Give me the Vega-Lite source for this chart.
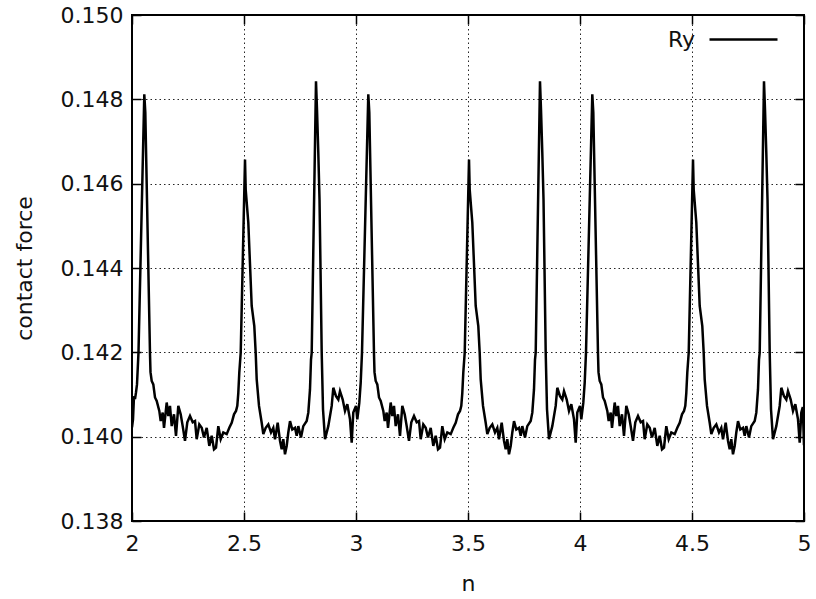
{
  "$schema": "https://vega.github.io/schema/vega-lite/v6.json",
  "width": 672,
  "height": 506,
  "autosize": {"type": "none"},
  "padding": {"left": 132, "top": 15, "right": 12, "bottom": 78},
  "background": "white",
  "config": {
    "font": "DejaVu Sans",
    "view": {"stroke": "black", "strokeWidth": 2},
    "axis": {
      "domain": false,
      "grid": true,
      "gridColor": "#000000",
      "gridDash": [1.5, 3],
      "gridWidth": 1,
      "gridOpacity": 0.85,
      "tickColor": "black",
      "tickWidth": 1.5,
      "tickSize": -9,
      "labelFontSize": 22,
      "labelFontWeight": "normal",
      "labelColor": "#111111",
      "labelFont": "DejaVu Sans",
      "titleFont": "DejaVu Sans",
      "titleFontSize": 22,
      "titleFontWeight": "normal",
      "titleColor": "#111111"
    },
    "legend": {
      "orient": "none",
      "legendX": 576,
      "legendY": -11,
      "symbolType": "stroke",
      "symbolSize": 4624,
      "symbolStrokeWidth": 2.5,
      "symbolStrokeColor": "black",
      "labelAlign": "right",
      "labelOffset": -84,
      "labelFontSize": 22,
      "labelFontWeight": "normal",
      "labelFont": "DejaVu Sans",
      "labelColor": "#111111",
      "padding": 0
    }
  },
  "data": {
    "values": [
      {"n": 2.0000, "f": 0.14022}, {"n": 2.0045, "f": 0.14041}, {"n": 2.0089, "f": 0.14096}, {"n": 2.0134, "f": 0.14089},
      {"n": 2.0179, "f": 0.14105}, {"n": 2.0223, "f": 0.14124}, {"n": 2.0290, "f": 0.14200}, {"n": 2.0549, "f": 0.14812},
      {"n": 2.0594, "f": 0.14769}, {"n": 2.0804, "f": 0.14195}, {"n": 2.0826, "f": 0.14153}, {"n": 2.0879, "f": 0.14132},
      {"n": 2.0951, "f": 0.14124}, {"n": 2.1027, "f": 0.14093}, {"n": 2.1103, "f": 0.14085}, {"n": 2.1219, "f": 0.14061},
      {"n": 2.1281, "f": 0.14037}, {"n": 2.1371, "f": 0.14057}, {"n": 2.1429, "f": 0.14021}, {"n": 2.1549, "f": 0.14081},
      {"n": 2.1621, "f": 0.14049}, {"n": 2.1696, "f": 0.14073}, {"n": 2.1772, "f": 0.14025}, {"n": 2.1875, "f": 0.14053},
      {"n": 2.1964, "f": 0.14002}, {"n": 2.2067, "f": 0.14073}, {"n": 2.2174, "f": 0.14053}, {"n": 2.2263, "f": 0.14025},
      {"n": 2.2366, "f": 0.13990}, {"n": 2.2469, "f": 0.14034}, {"n": 2.2589, "f": 0.14049}, {"n": 2.2710, "f": 0.14034},
      {"n": 2.2813, "f": 0.14037}, {"n": 2.2888, "f": 0.13994}, {"n": 2.3004, "f": 0.14029}, {"n": 2.3112, "f": 0.14021},
      {"n": 2.3214, "f": 0.13998}, {"n": 2.3335, "f": 0.14021}, {"n": 2.3451, "f": 0.13978}, {"n": 2.3558, "f": 0.14002},
      {"n": 2.3661, "f": 0.13970}, {"n": 2.3750, "f": 0.13974}, {"n": 2.3853, "f": 0.14025}, {"n": 2.3960, "f": 0.13994},
      {"n": 2.4076, "f": 0.14010}, {"n": 2.4228, "f": 0.14006}, {"n": 2.4344, "f": 0.14021}, {"n": 2.4451, "f": 0.14033},
      {"n": 2.4554, "f": 0.14053}, {"n": 2.4643, "f": 0.14061}, {"n": 2.4701, "f": 0.14073}, {"n": 2.4746, "f": 0.14104},
      {"n": 2.4790, "f": 0.14152}, {"n": 2.4853, "f": 0.14199}, {"n": 2.5045, "f": 0.14657}, {"n": 2.5076, "f": 0.14586},
      {"n": 2.5192, "f": 0.14508}, {"n": 2.5344, "f": 0.14310}, {"n": 2.5460, "f": 0.14262}, {"n": 2.5522, "f": 0.14199},
      {"n": 2.5567, "f": 0.14136}, {"n": 2.5670, "f": 0.14073}, {"n": 2.5790, "f": 0.14033}, {"n": 2.5862, "f": 0.14006},
      {"n": 2.5969, "f": 0.14021}, {"n": 2.6085, "f": 0.14029}, {"n": 2.6205, "f": 0.14010}, {"n": 2.6308, "f": 0.14021},
      {"n": 2.6384, "f": 0.13994}, {"n": 2.6504, "f": 0.14033}, {"n": 2.6607, "f": 0.13990}, {"n": 2.6683, "f": 0.13970},
      {"n": 2.6754, "f": 0.13994}, {"n": 2.6830, "f": 0.13958}, {"n": 2.6906, "f": 0.13978}, {"n": 2.6978, "f": 0.14010},
      {"n": 2.7054, "f": 0.14037}, {"n": 2.7156, "f": 0.14017}, {"n": 2.7277, "f": 0.14021}, {"n": 2.7353, "f": 0.14002},
      {"n": 2.7424, "f": 0.14025}, {"n": 2.7545, "f": 0.13998}, {"n": 2.7647, "f": 0.14025}, {"n": 2.7799, "f": 0.14037},
      {"n": 2.7871, "f": 0.14057}, {"n": 2.7946, "f": 0.14112}, {"n": 2.7991, "f": 0.14183}, {"n": 2.8022, "f": 0.14199},
      {"n": 2.8214, "f": 0.14843}, {"n": 2.8259, "f": 0.14776}, {"n": 2.8317, "f": 0.14673}, {"n": 2.8371, "f": 0.14563},
      {"n": 2.8469, "f": 0.14199}, {"n": 2.8527, "f": 0.14065}, {"n": 2.8616, "f": 0.13994}, {"n": 2.8763, "f": 0.14025},
      {"n": 2.8915, "f": 0.14073}, {"n": 2.8987, "f": 0.14116}, {"n": 2.9107, "f": 0.14096}, {"n": 2.9210, "f": 0.14088},
      {"n": 2.9286, "f": 0.14108}, {"n": 2.9406, "f": 0.14088}, {"n": 2.9509, "f": 0.14061}, {"n": 2.9612, "f": 0.14077},
      {"n": 2.9732, "f": 0.14041}, {"n": 2.9808, "f": 0.13986}, {"n": 2.9879, "f": 0.14057},
      {"n": 3.0000, "f": 0.14073}, {"n": 3.0058, "f": 0.14041}, {"n": 3.0147, "f": 0.14080}, {"n": 3.0210, "f": 0.14128},
      {"n": 3.0268, "f": 0.14200}, {"n": 3.0549, "f": 0.14812},
      {"n": 3.0594, "f": 0.14769}, {"n": 3.0804, "f": 0.14195}, {"n": 3.0826, "f": 0.14153}, {"n": 3.0879, "f": 0.14132},
      {"n": 3.0951, "f": 0.14124}, {"n": 3.1027, "f": 0.14093}, {"n": 3.1103, "f": 0.14085}, {"n": 3.1219, "f": 0.14061},
      {"n": 3.1281, "f": 0.14037}, {"n": 3.1371, "f": 0.14057}, {"n": 3.1429, "f": 0.14021}, {"n": 3.1549, "f": 0.14081},
      {"n": 3.1621, "f": 0.14049}, {"n": 3.1696, "f": 0.14073}, {"n": 3.1772, "f": 0.14025}, {"n": 3.1875, "f": 0.14053},
      {"n": 3.1964, "f": 0.14002}, {"n": 3.2067, "f": 0.14073}, {"n": 3.2174, "f": 0.14053}, {"n": 3.2263, "f": 0.14025},
      {"n": 3.2366, "f": 0.13990}, {"n": 3.2469, "f": 0.14034}, {"n": 3.2589, "f": 0.14049}, {"n": 3.2710, "f": 0.14034},
      {"n": 3.2813, "f": 0.14037}, {"n": 3.2888, "f": 0.13994}, {"n": 3.3004, "f": 0.14029}, {"n": 3.3112, "f": 0.14021},
      {"n": 3.3214, "f": 0.13998}, {"n": 3.3335, "f": 0.14021}, {"n": 3.3451, "f": 0.13978}, {"n": 3.3558, "f": 0.14002},
      {"n": 3.3661, "f": 0.13970}, {"n": 3.3750, "f": 0.13974}, {"n": 3.3853, "f": 0.14025}, {"n": 3.3960, "f": 0.13994},
      {"n": 3.4076, "f": 0.14010}, {"n": 3.4228, "f": 0.14006}, {"n": 3.4344, "f": 0.14021}, {"n": 3.4451, "f": 0.14033},
      {"n": 3.4554, "f": 0.14053}, {"n": 3.4643, "f": 0.14061}, {"n": 3.4701, "f": 0.14073}, {"n": 3.4746, "f": 0.14104},
      {"n": 3.4790, "f": 0.14152}, {"n": 3.4853, "f": 0.14199}, {"n": 3.5045, "f": 0.14657}, {"n": 3.5076, "f": 0.14586},
      {"n": 3.5192, "f": 0.14508}, {"n": 3.5344, "f": 0.14310}, {"n": 3.5460, "f": 0.14262}, {"n": 3.5522, "f": 0.14199},
      {"n": 3.5567, "f": 0.14136}, {"n": 3.5670, "f": 0.14073}, {"n": 3.5790, "f": 0.14033}, {"n": 3.5862, "f": 0.14006},
      {"n": 3.5969, "f": 0.14021}, {"n": 3.6085, "f": 0.14029}, {"n": 3.6205, "f": 0.14010}, {"n": 3.6308, "f": 0.14021},
      {"n": 3.6384, "f": 0.13994}, {"n": 3.6504, "f": 0.14033}, {"n": 3.6607, "f": 0.13990}, {"n": 3.6683, "f": 0.13970},
      {"n": 3.6754, "f": 0.13994}, {"n": 3.6830, "f": 0.13958}, {"n": 3.6906, "f": 0.13978}, {"n": 3.6978, "f": 0.14010},
      {"n": 3.7054, "f": 0.14037}, {"n": 3.7156, "f": 0.14017}, {"n": 3.7277, "f": 0.14021}, {"n": 3.7353, "f": 0.14002},
      {"n": 3.7424, "f": 0.14025}, {"n": 3.7545, "f": 0.13998}, {"n": 3.7647, "f": 0.14025}, {"n": 3.7799, "f": 0.14037},
      {"n": 3.7871, "f": 0.14057}, {"n": 3.7946, "f": 0.14112}, {"n": 3.7991, "f": 0.14183}, {"n": 3.8022, "f": 0.14199},
      {"n": 3.8214, "f": 0.14843}, {"n": 3.8259, "f": 0.14776}, {"n": 3.8317, "f": 0.14673}, {"n": 3.8371, "f": 0.14563},
      {"n": 3.8469, "f": 0.14199}, {"n": 3.8527, "f": 0.14065}, {"n": 3.8616, "f": 0.13994}, {"n": 3.8763, "f": 0.14025},
      {"n": 3.8915, "f": 0.14073}, {"n": 3.8987, "f": 0.14116}, {"n": 3.9107, "f": 0.14096}, {"n": 3.9210, "f": 0.14088},
      {"n": 3.9286, "f": 0.14108}, {"n": 3.9406, "f": 0.14088}, {"n": 3.9509, "f": 0.14061}, {"n": 3.9612, "f": 0.14077},
      {"n": 3.9732, "f": 0.14041}, {"n": 3.9808, "f": 0.13986}, {"n": 3.9879, "f": 0.14057},
      {"n": 4.0000, "f": 0.14073}, {"n": 4.0058, "f": 0.14041}, {"n": 4.0147, "f": 0.14080}, {"n": 4.0210, "f": 0.14128},
      {"n": 4.0268, "f": 0.14200}, {"n": 4.0549, "f": 0.14812},
      {"n": 4.0594, "f": 0.14769}, {"n": 4.0804, "f": 0.14195}, {"n": 4.0826, "f": 0.14153}, {"n": 4.0879, "f": 0.14132},
      {"n": 4.0951, "f": 0.14124}, {"n": 4.1027, "f": 0.14093}, {"n": 4.1103, "f": 0.14085}, {"n": 4.1219, "f": 0.14061},
      {"n": 4.1281, "f": 0.14037}, {"n": 4.1371, "f": 0.14057}, {"n": 4.1429, "f": 0.14021}, {"n": 4.1549, "f": 0.14081},
      {"n": 4.1621, "f": 0.14049}, {"n": 4.1696, "f": 0.14073}, {"n": 4.1772, "f": 0.14025}, {"n": 4.1875, "f": 0.14053},
      {"n": 4.1964, "f": 0.14002}, {"n": 4.2067, "f": 0.14073}, {"n": 4.2174, "f": 0.14053}, {"n": 4.2263, "f": 0.14025},
      {"n": 4.2366, "f": 0.13990}, {"n": 4.2469, "f": 0.14034}, {"n": 4.2589, "f": 0.14049}, {"n": 4.2710, "f": 0.14034},
      {"n": 4.2813, "f": 0.14037}, {"n": 4.2888, "f": 0.13994}, {"n": 4.3004, "f": 0.14029}, {"n": 4.3112, "f": 0.14021},
      {"n": 4.3214, "f": 0.13998}, {"n": 4.3335, "f": 0.14021}, {"n": 4.3451, "f": 0.13978}, {"n": 4.3558, "f": 0.14002},
      {"n": 4.3661, "f": 0.13970}, {"n": 4.3750, "f": 0.13974}, {"n": 4.3853, "f": 0.14025}, {"n": 4.3960, "f": 0.13994},
      {"n": 4.4076, "f": 0.14010}, {"n": 4.4228, "f": 0.14006}, {"n": 4.4344, "f": 0.14021}, {"n": 4.4451, "f": 0.14033},
      {"n": 4.4554, "f": 0.14053}, {"n": 4.4643, "f": 0.14061}, {"n": 4.4701, "f": 0.14073}, {"n": 4.4746, "f": 0.14104},
      {"n": 4.4790, "f": 0.14152}, {"n": 4.4853, "f": 0.14199}, {"n": 4.5045, "f": 0.14657}, {"n": 4.5076, "f": 0.14586},
      {"n": 4.5192, "f": 0.14508}, {"n": 4.5344, "f": 0.14310}, {"n": 4.5460, "f": 0.14262}, {"n": 4.5522, "f": 0.14199},
      {"n": 4.5567, "f": 0.14136}, {"n": 4.5670, "f": 0.14073}, {"n": 4.5790, "f": 0.14033}, {"n": 4.5862, "f": 0.14006},
      {"n": 4.5969, "f": 0.14021}, {"n": 4.6085, "f": 0.14029}, {"n": 4.6205, "f": 0.14010}, {"n": 4.6308, "f": 0.14021},
      {"n": 4.6384, "f": 0.13994}, {"n": 4.6504, "f": 0.14033}, {"n": 4.6607, "f": 0.13990}, {"n": 4.6683, "f": 0.13970},
      {"n": 4.6754, "f": 0.13994}, {"n": 4.6830, "f": 0.13958}, {"n": 4.6906, "f": 0.13978}, {"n": 4.6978, "f": 0.14010},
      {"n": 4.7054, "f": 0.14037}, {"n": 4.7156, "f": 0.14017}, {"n": 4.7277, "f": 0.14021}, {"n": 4.7353, "f": 0.14002},
      {"n": 4.7424, "f": 0.14025}, {"n": 4.7545, "f": 0.13998}, {"n": 4.7647, "f": 0.14025}, {"n": 4.7799, "f": 0.14037},
      {"n": 4.7871, "f": 0.14057}, {"n": 4.7946, "f": 0.14112}, {"n": 4.7991, "f": 0.14183}, {"n": 4.8022, "f": 0.14199},
      {"n": 4.8214, "f": 0.14843}, {"n": 4.8259, "f": 0.14776}, {"n": 4.8317, "f": 0.14673}, {"n": 4.8371, "f": 0.14563},
      {"n": 4.8469, "f": 0.14199}, {"n": 4.8527, "f": 0.14065}, {"n": 4.8616, "f": 0.13994}, {"n": 4.8763, "f": 0.14025},
      {"n": 4.8915, "f": 0.14073}, {"n": 4.8987, "f": 0.14116}, {"n": 4.9107, "f": 0.14096}, {"n": 4.9210, "f": 0.14088},
      {"n": 4.9286, "f": 0.14108}, {"n": 4.9406, "f": 0.14088}, {"n": 4.9509, "f": 0.14061}, {"n": 4.9612, "f": 0.14077},
      {"n": 4.9732, "f": 0.14041}, {"n": 4.9808, "f": 0.13986}, {"n": 4.9879, "f": 0.14057}, {"n": 4.9946, "f": 0.14070},
      {"n": 5.0000, "f": 0.13980}
    ]
  },
  "layer": [
    {
      "mark": {"type": "line", "strokeWidth": 2.5, "strokeJoin": "miter", "clip": true},
      "encoding": {
        "x": {
          "field": "n", "type": "quantitative",
          "scale": {"domain": [2, 5], "nice": false, "zero": false},
          "axis": {"title": "n", "values": [2, 2.5, 3, 3.5, 4, 4.5, 5], "format": "~g", "labelPadding": 21, "titlePadding": 19, "labelFlush": false}
        },
        "y": {
          "field": "f", "type": "quantitative",
          "scale": {"domain": [0.138, 0.150], "nice": false, "zero": false},
          "axis": {"title": "contact force", "values": [0.138, 0.140, 0.142, 0.144, 0.146, 0.148, 0.150], "format": ".3f", "labelPadding": 18, "titlePadding": 24, "labelFlush": false}
        },
        "color": {
          "datum": "Ry",
          "scale": {"range": ["black"]},
          "legend": {"title": null}
        }
      }
    },
    {
      "mark": {"type": "line", "opacity": 0},
      "encoding": {
        "x": {
          "field": "n", "type": "quantitative",
          "axis": {"title": null, "labels": false, "grid": false, "values": [2, 2.5, 3, 3.5, 4, 4.5, 5]}
        },
        "y": {
          "field": "f", "type": "quantitative",
          "axis": {"title": null, "labels": false, "grid": false, "values": [0.138, 0.140, 0.142, 0.144, 0.146, 0.148, 0.150]}
        }
      }
    }
  ],
  "resolve": {"axis": {"x": "independent", "y": "independent"}}
}
